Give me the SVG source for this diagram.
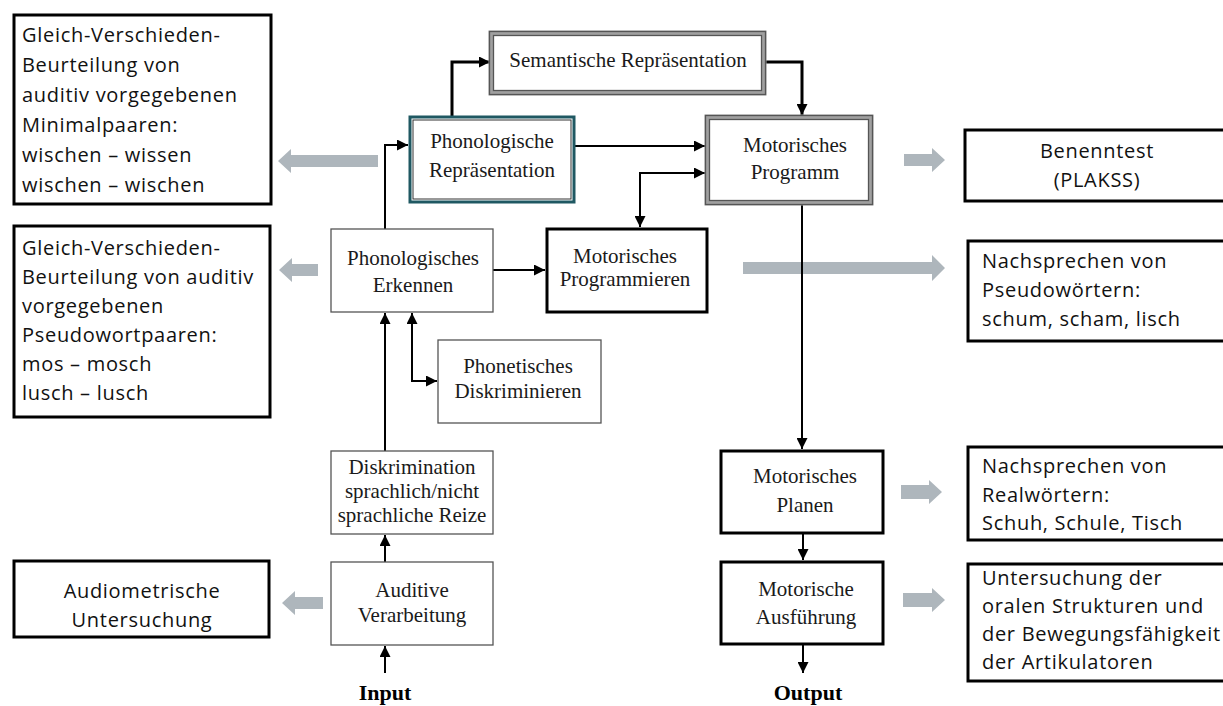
<svg xmlns="http://www.w3.org/2000/svg" width="1223" height="706" viewBox="0 0 1223 706">
<style>
  .serif { font-family: "Liberation Serif", "Times New Roman", serif; font-size: 21px; fill: #1a1a1a; text-anchor: middle; }
  .bold { font-family: "Liberation Serif", "Times New Roman", serif; font-size: 22px; font-weight: bold; fill: #000; text-anchor: middle; }
  .sans { font-family: "Open Sans", "Noto Sans", sans-serif; font-size: 20px; letter-spacing: 0.7px; fill: #111; }
  .sansc { font-family: "Open Sans", "Noto Sans", sans-serif; font-size: 20px; letter-spacing: 0.7px; fill: #111; text-anchor: middle; }
  .thin { fill: #fff; stroke: #555; stroke-width: 1.3; }
  .thick { fill: #fff; stroke: #000; stroke-width: 3; }
  .test { fill: #fff; stroke: #000; stroke-width: 3; }
  .conn { fill: none; stroke: #000; stroke-width: 2; }
  .conn3 { fill: none; stroke: #000; stroke-width: 3; }
  .grey { fill: #aeb6bc; stroke: none; }
</style>
<defs>
  <marker id="ah" markerUnits="userSpaceOnUse" markerWidth="11" markerHeight="11" refX="10" refY="5" orient="auto-start-reverse" viewBox="0 0 10 10">
    <path d="M0,0 L10,5 L0,10 z" fill="#000"/>
  </marker>
</defs>
<rect width="1223" height="706" fill="#fff"/>

<!-- grey test arrows -->
<g id="grey-arrows">
  <polygon class="grey" points="278,161 291,149 291,155 378,155 378,167 291,167 291,173"/>
  <polygon class="grey" points="279,270 292,258 292,264 318,264 318,276 292,276 292,282"/>
  <polygon class="grey" points="282,603 295,591 295,597 323,597 323,609 295,609 295,615"/>
  <polygon class="grey" points="945,160 932,148 932,154 904,154 904,166 932,166 932,172"/>
  <polygon class="grey" points="945,268 932,255 932,262 743,262 743,274 932,274 932,281"/>
  <polygon class="grey" points="942,492 929,480 929,485 901,485 901,499 929,499 929,504"/>
  <polygon class="grey" points="945,600 932,588 932,593 903,593 903,607 932,607 932,612"/>
</g>

<!-- connectors -->
<g id="connectors">
  <path class="conn" d="M385,229 V145 H408" marker-end="url(#ah)"/>
  <path class="conn3" d="M452,116 V62 H490" marker-end="url(#ah)"/>
  <path class="conn3" d="M764,62 H802 V115" marker-end="url(#ah)"/>
  <path class="conn" d="M575,146 H705" marker-end="url(#ah)"/>
  <path class="conn" d="M640,227 V173 H705" marker-start="url(#ah)" marker-end="url(#ah)"/>
  <path class="conn" d="M493,270 H545" marker-end="url(#ah)"/>
  <path class="conn" d="M802,204 V449" marker-end="url(#ah)"/>
  <path class="conn" d="M385,562 V535" marker-end="url(#ah)"/>
  <path class="conn" d="M385,451 V313" marker-end="url(#ah)"/>
  <path class="conn" d="M412,313 V381 H437" marker-start="url(#ah)" marker-end="url(#ah)"/>
  <path class="conn" d="M385,673 V646" marker-end="url(#ah)"/>
  <path class="conn" d="M803,534 V560" marker-end="url(#ah)"/>
  <path class="conn" d="M803,645 V673" marker-end="url(#ah)"/>
</g>

<!-- center nodes -->
<g id="semantische">
  <rect x="491" y="33" width="273" height="60" fill="#fff" stroke="#a0a0a0" stroke-width="5"/>
  <rect x="489.5" y="31.5" width="276" height="63" fill="none" stroke="#555" stroke-width="1.3"/>
  <rect x="493.5" y="35.5" width="268" height="55" fill="none" stroke="#555" stroke-width="1.3"/>
  <text class="serif" x="628" y="67">Semantische Repräsentation</text>
</g>
<g id="phon-rep">
  <rect x="410" y="117" width="164" height="85" fill="#fff" stroke="#1f5862" stroke-width="3"/>
  <rect x="413" y="120" width="158" height="79" fill="none" stroke="#333" stroke-width="1"/>
  <text class="serif" x="492" y="148">Phonologische</text>
  <text class="serif" x="492" y="177">Repräsentation</text>
</g>
<g id="mot-programm">
  <rect x="707" y="117" width="164" height="86" fill="#fff" stroke="#a0a0a0" stroke-width="5"/>
  <rect x="705.5" y="115.5" width="167" height="89" fill="none" stroke="#555" stroke-width="1.3"/>
  <rect x="709.5" y="119.5" width="159" height="81" fill="none" stroke="#555" stroke-width="1.3"/>
  <text class="serif" x="795" y="152">Motorisches</text>
  <text class="serif" x="795" y="179">Programm</text>
</g>
<g id="phon-erkennen">
  <rect class="thin" x="331" y="229" width="162" height="83"/>
  <text class="serif" x="413" y="265">Phonologisches</text>
  <text class="serif" x="413" y="292">Erkennen</text>
</g>
<g id="mot-programmieren">
  <rect class="thick" x="547" y="229" width="160" height="83"/>
  <text class="serif" x="625" y="263">Motorisches</text>
  <text class="serif" x="625" y="286">Programmieren</text>
</g>
<g id="phonetisches">
  <rect class="thin" x="438" y="340" width="163" height="83"/>
  <text class="serif" x="518" y="373">Phonetisches</text>
  <text class="serif" x="518" y="398">Diskriminieren</text>
</g>
<g id="diskrimination">
  <rect class="thin" x="331" y="451" width="162" height="83"/>
  <text class="serif" x="412" y="474">Diskrimination</text>
  <text class="serif" x="412" y="498">sprachlich/nicht</text>
  <text class="serif" x="412" y="522">sprachliche Reize</text>
</g>
<g id="auditive">
  <rect class="thin" x="331" y="562" width="162" height="83"/>
  <text class="serif" x="412" y="597">Auditive</text>
  <text class="serif" x="412" y="622">Verarbeitung</text>
</g>
<g id="input">
  <text class="bold" x="385" y="700">Input</text>
</g>
<g id="mot-planen">
  <rect class="thick" x="721" y="451" width="162" height="82"/>
  <text class="serif" x="805" y="483">Motorisches</text>
  <text class="serif" x="805" y="512">Planen</text>
</g>
<g id="mot-ausfuehrung">
  <rect class="thick" x="721" y="562" width="162" height="82"/>
  <text class="serif" x="806" y="596">Motorische</text>
  <text class="serif" x="806" y="624">Ausführung</text>
</g>
<g id="output">
  <text class="bold" x="808" y="700">Output</text>
</g>

<!-- left test boxes -->
<g id="test-minimalpaare">
  <rect class="test" x="14" y="15" width="257" height="189"/>
  <text class="sans" x="22" y="42">Gleich-Verschieden-</text>
  <text class="sans" x="22" y="72">Beurteilung von</text>
  <text class="sans" x="22" y="102">auditiv vorgegebenen</text>
  <text class="sans" x="22" y="132">Minimalpaaren:</text>
  <text class="sans" x="22" y="162">wischen – wissen</text>
  <text class="sans" x="22" y="192">wischen – wischen</text>
</g>
<g id="test-pseudowortpaare">
  <rect class="test" x="14" y="226" width="256" height="191"/>
  <text class="sans" x="22" y="255">Gleich-Verschieden-</text>
  <text class="sans" x="22" y="284">Beurteilung von auditiv</text>
  <text class="sans" x="22" y="313">vorgegebenen</text>
  <text class="sans" x="22" y="342">Pseudowortpaaren:</text>
  <text class="sans" x="22" y="371">mos – mosch</text>
  <text class="sans" x="22" y="400">lusch – lusch</text>
</g>
<g id="test-audiometrie">
  <rect class="test" x="14" y="561" width="255" height="76"/>
  <text class="sansc" x="142" y="598">Audiometrische</text>
  <text class="sansc" x="142" y="627">Untersuchung</text>
</g>

<!-- right test boxes -->
<g id="test-benenntest">
  <rect class="test" x="965" y="130" width="262" height="71"/>
  <text class="sansc" x="1097" y="158">Benenntest</text>
  <text class="sansc" x="1097" y="187">(PLAKSS)</text>
</g>
<g id="test-pseudowoerter">
  <rect class="test" x="968" y="241" width="259" height="100"/>
  <text class="sans" x="982" y="268">Nachsprechen von</text>
  <text class="sans" x="982" y="297">Pseudowörtern:</text>
  <text class="sans" x="982" y="326">schum, scham, lisch</text>
</g>
<g id="test-realwoerter">
  <rect class="test" x="968" y="447" width="259" height="93"/>
  <text class="sans" x="982" y="473">Nachsprechen von</text>
  <text class="sans" x="982" y="502">Realwörtern:</text>
  <text class="sans" x="982" y="530">Schuh, Schule, Tisch</text>
</g>
<g id="test-untersuchung">
  <rect class="test" x="968" y="564" width="259" height="117"/>
  <text class="sans" x="982" y="585">Untersuchung der</text>
  <text class="sans" x="982" y="613">oralen Strukturen und</text>
  <text class="sans" x="982" y="641">der Bewegungsfähigkeit</text>
  <text class="sans" x="982" y="669">der Artikulatoren</text>
</g>
</svg>
